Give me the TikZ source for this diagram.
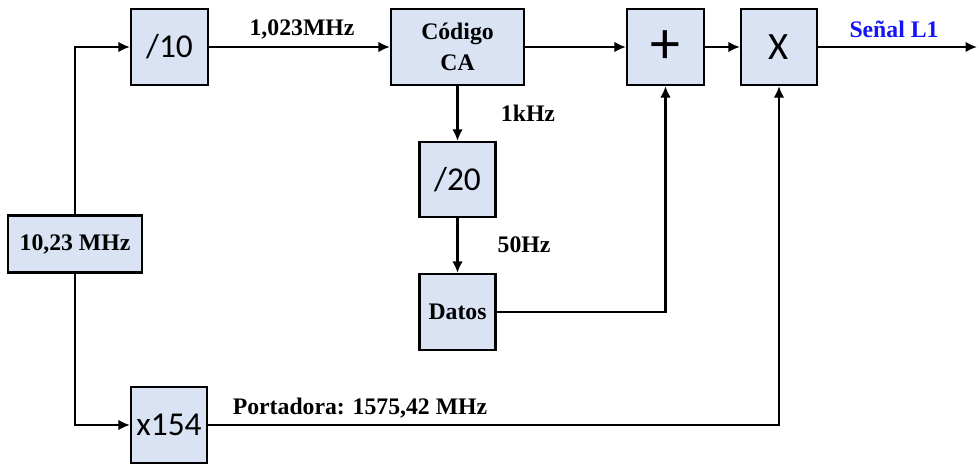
\documentclass[tikz,border=0pt]{standalone}
\usepackage{fontspec}
\setmainfont{Liberation Serif}
\newfontfamily\blkfont{Carlito}
\usetikzlibrary{arrows.meta}
\definecolor{boxfill}{RGB}{218,227,243}
\definecolor{sigblue}{RGB}{20,20,250}
\begin{document}
\begin{tikzpicture}[
  blk/.style={rectangle,draw,line width=1.3pt,fill=boxfill,inner sep=0pt,align=center},
  num/.style={font=\blkfont\fontsize{19}{19}\selectfont},
  bold/.style={font=\fontsize{13.5}{18}\selectfont\bfseries},
  wire/.style={line width=1.2pt,-{Latex[length=6.5pt,width=6pt]}},
  lbl/.style={font=\fontsize{13.5}{16}\selectfont\bfseries,inner sep=0pt},
]
  \useasboundingbox (0,0) rectangle (19.54,-9.28);
  \node[blk,bold,minimum width=2.68cm,minimum height=1.14cm] (osc)  at (1.50,-4.88) {10,23 MHz};
  \node[blk,num,minimum width=1.54cm,minimum height=1.52cm]  (div10) at (3.39,-0.94) {/10};
  \node[blk,bold,minimum width=2.66cm,minimum height=1.52cm] (code) at (9.15,-0.94) {Código\\CA};
  \node[blk,num,minimum width=1.52cm,minimum height=1.50cm]  (div20) at (9.15,-3.59) {/20};
  \node[blk,bold,minimum width=1.52cm,minimum height=1.52cm] (data) at (9.15,-6.24) {Datos};
  \node[blk,num,font=\blkfont\fontsize{34}{34}\selectfont,minimum width=1.54cm,minimum height=1.52cm] (sum) at (13.31,-0.94) {+};
  \node[blk,num,font=\blkfont\fontsize{22}{22}\selectfont,minimum width=1.52cm,minimum height=1.52cm] (mult) at (15.58,-0.94) {X};
  \node[blk,num,minimum width=1.52cm,minimum height=1.52cm]  (mul154) at (3.38,-8.50) {x154};
  \coordinate (out) at (19.54,-0.94);
  % labels
  \node[lbl] (fcode) at (6.04,-0.58) {1,023MHz};
  \node[lbl] (fms)   at (10.56,-2.26) {1kHz};
  \node[lbl] (fdat)  at (10.48,-4.90) {50Hz};
  \node[lbl] (fcar)  at (7.20,-8.16) {Portadora: 1575,42 MHz};
  \node[lbl,text=sigblue] (fout) at (17.88,-0.58) {Señal L1};
  % connectors
  \draw[wire] (osc.north) |- (div10.west);
  \draw[wire] (osc.south) |- (mul154.west);
  \draw[wire] (div10) -- (code);
  \draw[wire] (code) -- (sum);
  \draw[wire] (sum) -- (mult);
  \draw[wire] (mult) -- (out);
  \draw[wire] (code.south) -- (div20.north);
  \draw[wire] (div20) -- (data);
  \draw[wire] (data.east) -| (sum.south);
  \draw[wire] (mul154.east) -| (mult.south);
\end{tikzpicture}
\end{document}
